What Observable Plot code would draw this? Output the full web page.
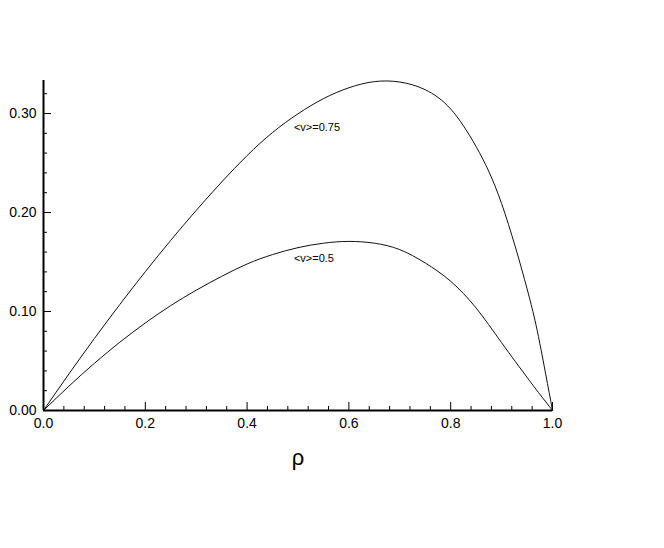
<!DOCTYPE html>
<html>
<head>
<meta charset="utf-8">
<script src="https://cdn.jsdelivr.net/npm/d3@7"></script>
<script src="https://cdn.jsdelivr.net/npm/@observablehq/plot@0.6"></script>
<style>
  body { margin: 0; background: #fff; }
  svg { display: block; }
</style>
</head>
<body>
<div id="chart"></div>
<script>
// density values (x)
const rho = [0, 0.05, 0.10, 0.15, 0.20, 0.25, 0.30, 0.35, 0.40, 0.45, 0.50,
             0.55, 0.60, 0.65, 0.70, 0.75, 0.80, 0.85, 0.90, 0.95, 0.975, 1.0];
// flux for <v>=0.75
const fluxV075 = [0, 0.037, 0.0727, 0.1071, 0.1402, 0.1719, 0.2021, 0.2308, 0.2575, 0.2808, 0.2997,
                  0.315, 0.326, 0.3322, 0.3318, 0.324, 0.3045, 0.2665, 0.209, 0.123, 0.068, 0];
// flux for <v>=0.5
const fluxV05 = [0, 0.0246, 0.0477, 0.069, 0.0884, 0.106, 0.1215, 0.1355, 0.148, 0.1575, 0.1645,
                 0.169, 0.1708, 0.169, 0.1625, 0.149, 0.1305, 0.1035, 0.0685, 0.0335, 0.0165, 0];

const seriesNames = ["<v>=0.75", "<v>=0.5"];
const labelRho = [0.492, 0.492];
const labelFlux = [0.286, 0.1534];

const xMajorTicks = [0, 0.2, 0.4, 0.6, 0.8, 1.0];
const xMinorTicks = [0.04, 0.08, 0.12, 0.16, 0.24, 0.28, 0.32, 0.36, 0.44, 0.48, 0.52, 0.56,
                     0.64, 0.68, 0.72, 0.76, 0.84, 0.88, 0.92, 0.96];
const yMajorTicks = [0, 0.1, 0.2, 0.3];
const yMinorTicks = [0.02, 0.04, 0.06, 0.08, 0.12, 0.14, 0.16, 0.18, 0.22, 0.24, 0.26, 0.28, 0.32];
const xLabel = "ρ";

const rows = [];
rho.forEach((r, i) => rows.push({rho: r, flux: fluxV075[i], series: seriesNames[0]}));
rho.forEach((r, i) => rows.push({rho: r, flux: fluxV05[i], series: seriesNames[1]}));
const labels = seriesNames.map((s, i) => ({text: s, rho: labelRho[i], flux: labelFlux[i]}));

const font = "'Liberation Sans', Arial, Helvetica, sans-serif";

const chart = Plot.plot({
  width: 664,
  height: 548,
  marginLeft: 43,
  marginRight: 112,
  marginTop: 80,
  marginBottom: 138,
  style: {fontFamily: font, background: "#fff", color: "#000"},
  x: {domain: [0, 1]},
  y: {domain: [0, 1/3]},
  marks: [
    // curves
    Plot.line(rows, {x: "rho", y: "flux", z: "series", stroke: "#111", strokeWidth: 1, curve: "natural"}),
    // inward minor / major ticks (x)
    Plot.ruleX(xMinorTicks, {x: d => d, y1: 0, y2: 0, insetTop: -4, stroke: "#000", strokeWidth: 1}),
    Plot.ruleX(xMajorTicks, {x: d => d, y1: 0, y2: 0, insetTop: -8, stroke: "#000", strokeWidth: 1}),
    // inward minor / major ticks (y)
    Plot.ruleY(yMinorTicks, {y: d => d, x1: 0, x2: 0, insetRight: -4, stroke: "#000", strokeWidth: 1}),
    Plot.ruleY(yMajorTicks, {y: d => d, x1: 0, x2: 0, insetRight: -8, stroke: "#000", strokeWidth: 1}),
    // axis lines
    Plot.ruleY([0], {stroke: "#000", strokeWidth: 2}),
    Plot.ruleX([0], {stroke: "#000", strokeWidth: 2}),
    // tick labels
    Plot.axisX(xMajorTicks, {tickSize: 0, tickPadding: 8, tickFormat: d3.format(".1f"), fontSize: 14, label: null}),
    Plot.axisY(yMajorTicks, {tickSize: 0, tickPadding: 7, tickFormat: d3.format(".2f"), fontSize: 14, label: null}),
    // x axis title
    Plot.text([xLabel], {frameAnchor: "bottom", dy: 54, fontSize: 22, fill: "#000"}),
    // curve labels
    Plot.text(labels, {x: "rho", y: "flux", text: "text", textAnchor: "start", fontSize: 11, fill: "#000"})
  ]
});
document.getElementById("chart").appendChild(chart);
</script>
</body>
</html>
